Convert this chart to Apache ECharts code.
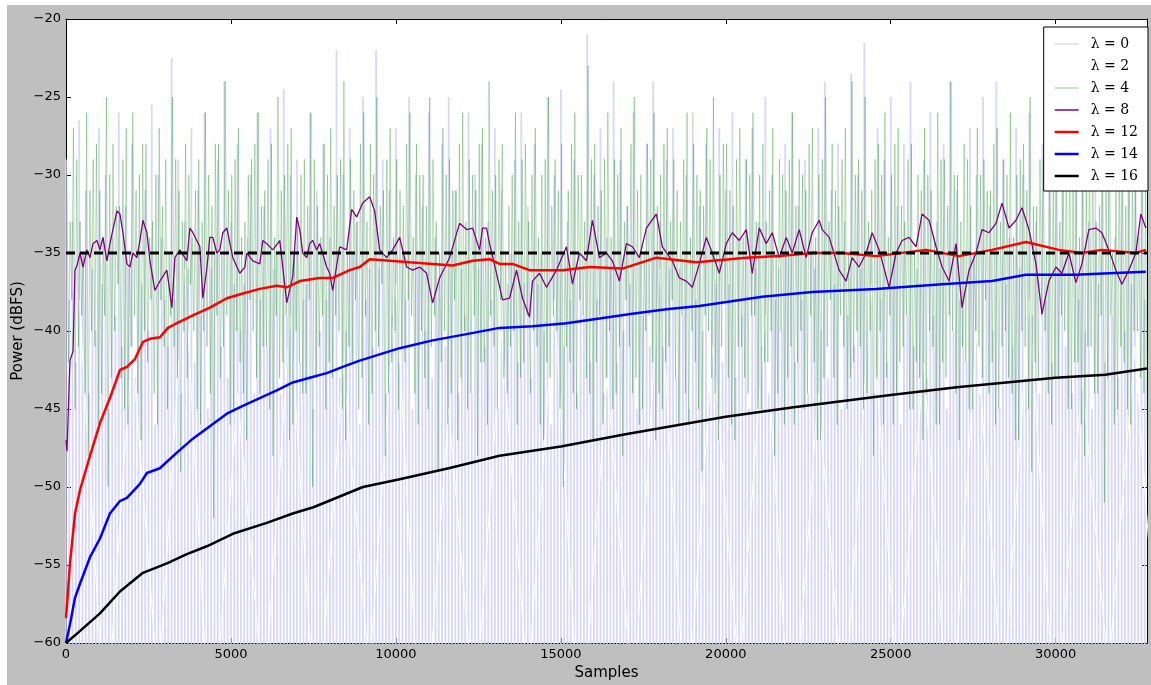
<!DOCTYPE html>
<html>
<head>
<meta charset="utf-8">
<script src="https://cdn.jsdelivr.net/npm/echarts@6/dist/echarts.min.js"></script>
<style>
html,body{margin:0;padding:0;background:#fff;}
#chart{position:absolute;left:7px;top:5px;width:1144px;height:680px;}
</style>
</head>
<body>
<div id="chart"></div>
<script>
// ---------- data ----------
const sampleMax = 32768;
const yTicks = [-60, -55, -50, -45, -40, -35, -30, -25, -20];
const targetLevel = -35;
const seriesNames = ['λ = 0', 'λ = 2', 'λ = 4', 'λ = 8', 'λ = 12', 'λ = 14', 'λ = 16'];

// λ=0 raw power: spike tops (at i*100) and troughs below the axis floor
const lam0Peaks = [
 -29,-38,-33,-42,-26.5,-35,-31,-44,-36,-40,-27,-37,-30,-45,-34,-39,-26,-41,-32,-36,
 -28,-43,-35,-37,-31,-40,-25.5,-46,-30,-34,-38,-41,-22.5,-38,-29,-44,-33,-36,-27,-42,
 -31,-39,-26,-45,-36,-35,-29,-41,-24,-43,-33,-37,-28,-40,-37,-34,-30,-44,-26,-38,
 -32,-41,-27,-36,-35,-44,-24.5,-39,-30,-35,-29,-42,-38,-37,-26,-45,-31,-40,-28,-38,
 -34,-37,-22,-43,-30,-40,-27,-35,-33,-46,-25,-38,-36,-41,-22,-36,-29,-44,-31,-39,
 -27,-42,-35,-38,-25,-45,-30,-36,-32,-40,-26,-43,-34,-37,-28,-41,-25,-35,-31,-44,
 -36,-39,-26,-44,-30,-36,-28,-41,-33,-38,-27,-45,-31,-40,-37,-35,-29,-42,-26,-37,
 -32,-43,-28,-37,-35,-40,-25,-46,-30,-35,-24.5,-41,-33,-38,-29,-44,-36,-39,-21,-42,
 -30,-38,-27,-44,-34,-36,-24,-42,-29,-40,-32,-37,-26,-45,-35,-39,-28,-41,-24,-35,
 -33,-41,-29,-36,-27,-43,-36,-39,-30,-45,-26,-38,-32,-40,-28,-44,-35,-37,-27,-42,
 -31,-37,-26,-43,-34,-39,-29,-45,-27,-36,-33,-41,-25,-44,-30,-38,-36,-40,-28,-35,
 -26,-42,-32,-38,-29,-44,-35,-36,-27,-40,-24,-43,-31,-37,-28,-45,-33,-39,-23.5,-41,
 -30,-36,-21.5,-40,-34,-44,-27,-38,-29,-42,-25,-35,-32,-46,-28,-39,-24,-41,-36,-37,
 -29,-43,-26,-39,-33,-36,-28,-45,-24,-40,-31,-38,-35,-42,-27,-35,-30,-44,-25,-37,
 -32,-40,-24,-45,-29,-37,-34,-41,-27,-36,-30,-43,-26,-39,-33,-44,-28,-38,-25,-42,
 -31,-36,-27,-41,-35,-44,-29,-38,-26,-40,-33,-45,-28,-37,-30,-42,-27,-39,-34,-43,
 -29,-40,-26,-37,-31,-44,-28,-38];
const lam0Troughs = [
 -68,-72,-64,-70,-66,-75,-62,-69,-71,-65,-73,-66,-70,-63,-68,-74,-65,-71,-67,-69,
 -64,-70,-66,-73,-62,-68,-72,-65,-69,-75,-67,-63,-71,-66,-74,-64,-70,-68,-62,-72,
 -69,-65,-73,-67,-71,-63,-68,-74,-66,-70,-62,-71,-67,-64,-72,-69,-65,-73,-68,-66,
 -70,-64,-74,-68,-63,-71,-66,-69,-72,-65,-67,-73,-62,-70,-66,-75,-64,-68,-71,-63,
 -72,-66,-69,-64,-73,-67,-70,-62,-68,-74,-65,-71,-67,-73,-63,-69,-66,-72,-64,-70,
 -68,-62,-74,-66,-70,-65,-72,-67,-63,-71,-73,-67,-64,-69,-71,-66,-62,-70,-68,-65,
 -66,-72,-68,-63,-74,-67,-70,-64,-71,-69,-64,-70,-66,-73,-68,-62,-71,-65,-69,-72,
 -71,-65,-69,-67,-63,-74,-68,-70,-66,-62,-69,-73,-65,-71,-67,-64,-72,-66,-70,-68,
 -63,-70,-67,-72,-68,-72,-64,-70,-66,-75,-62,-69,-71,-65,-73,-66,-70,-63,-68,-74,
 -65,-71,-67,-69,-64,-70,-66,-73,-62,-68,-72,-65,-69,-75,-67,-63,-71,-66,-74,-64,
 -70,-68,-62,-72,-69,-65,-73,-67,-71,-63,-68,-74,-66,-70,-62,-71,-67,-64,-72,-69,
 -65,-73,-68,-66,-70,-64,-74,-68,-63,-71,-66,-69,-72,-65,-67,-73,-62,-70,-66,-75,
 -64,-68,-71,-63,-72,-66,-69,-64,-73,-67,-70,-62,-68,-74,-65,-71,-67,-73,-63,-69,
 -66,-72,-64,-70,-68,-62,-74,-66,-70,-65,-72,-67,-63,-71,-73,-67,-64,-69,-71,-66,
 -62,-70,-68,-65,-66,-72,-68,-63,-74,-67,-70,-64,-71,-69,-64,-70,-66,-73,-68,-62,
 -71,-65,-69,-72,-71,-65,-69,-67,-63,-74,-68,-70,-66,-62,-69,-73,-65,-71,-67,-64,
 -72,-66,-70,-68,-63,-70,-67,-72];

// λ=2 (drawn in white)
const lam2Highs = [-38,-41,-36,-44,-39,-42,-37,-45,-40,-38,-43,-36,-41,-39,-44,-37,-42,-40,-38,-43,-41];
const lam2Lows  = [-66,-63,-68,-64,-67,-62,-69,-65,-63,-67,-64,-66,-62,-68,-65,-63,-67,-64,-66,-62,-65];

// λ=4: highs (at i*100+25) and lows (at i*100+75)
const lam4Highs = [
 -30,-33,-27,-29,-33,-35,-26,-31,-29,-28,-31,-34,-25,-30,-28,-32,-32,-29,-27,-35,
 -26,-31,-30,-28,-28,-34,-33,-30,-27,-32,-29,-35,-25,-29,-31,-33,-28,-30,-34,-31,
 -29,-33,-26,-30,-32,-28,-28,-35,-24,-31,-30,-29,-27,-34,-33,-30,-29,-28,-26,-32,
 -31,-29,-28,-34,-25,-31,-30,-28,-27,-35,-33,-30,-29,-32,-26,-29,-32,-34,-28,-30,
 -27,-32,-30,-29,-24,-35,-29,-31,-33,-28,-26,-33,-28,-30,-25,-32,-31,-29,-27,-34,
 -29,-31,-32,-28,-26,-34,-28,-30,-30,-32,-25,-29,-33,-35,-27,-30,-29,-31,-31,-28,
 -26,-33,-29,-30,-31,-28,-27,-34,-24,-31,-30,-29,-28,-35,-32,-30,-26,-33,-29,-28,
 -33,-30,-27,-34,-30,-29,-25,-32,-29,-31,-28,-35,-31,-28,-26,-30,-30,-33,-23,-29,
 -28,-32,-31,-29,-26,-34,-29,-30,-27,-33,-32,-28,-25,-31,-30,-35,-28,-29,-26,-32,
 -30,-28,-27,-33,-29,-31,-33,-29,-26,-34,-28,-30,-31,-32,-27,-29,-25,-35,-30,-28,
 -28,-31,-32,-29,-27,-34,-29,-30,-26,-33,-30,-28,-33,-31,-27,-35,-29,-30,-31,-29,
 -26,-32,-29,-30,-31,-28,-27,-34,-30,-29,-25,-33,-28,-31,-32,-29,-27,-35,-24,-30,
 -29,-31,-25,-33,-31,-29,-28,-30,-26,-34,-30,-28,-27,-32,-33,-29,-28,-35,-30,-31,
 -27,-30,-31,-34,-26,-29,-29,-32,-24,-30,-30,-33,-28,-29,-32,-35,-27,-30,-29,-31,
 -31,-28,-27,-33,-29,-30,-26,-34,-30,-29,-28,-31,-25,-32,-32,-29,-29,-35,-27,-30,
 -28,-33,-30,-29,-26,-31,-31,-34,-27,-30,-29,-28,-33,-32,-28,-30,-26,-35,-30,-29,
 -29,-32,-27,-30,-31,-34,-28,-30];
const lam4Lows = [
 -42,-38,-45,-41,-39,-44,-48,-40,-41,-46,-44,-39,-50,-43,-40,-37,-43,-45,-46,-41,
 -39,-44,-47,-40,-42,-38,-44,-46,-38,-41,-45,-39,-41,-43,-49,-40,-43,-37,-40,-45,
 -46,-40,-41,-44,-52,-39,-43,-41,-39,-46,-45,-40,-42,-44,-47,-38,-40,-43,-44,-41,
 -41,-45,-48,-39,-43,-42,-39,-47,-46,-40,-42,-44,-44,-38,-50,-43,-41,-39,-45,-42,
 -43,-39,-40,-45,-47,-41,-42,-38,-45,-43,-39,-46,-44,-40,-41,-37,-48,-44,-42,-40,
 -45,-41,-42,-38,-39,-44,-46,-40,-43,-45,-41,-39,-49,-42,-40,-46,-44,-38,-47,-43,
 -40,-45,-44,-39,-48,-42,-42,-46,-39,-41,-45,-38,-43,-44,-41,-40,-46,-43,-42,-39,
 -44,-40,-41,-46,-47,-42,-43,-39,-40,-45,-50,-41,-42,-44,-45,-38,-39,-43,-44,-47,
 -42,-39,-46,-43,-40,-45,-44,-41,-48,-38,-41,-44,-43,-46,-45,-40,-39,-42,-47,-44,
 -45,-42,-41,-38,-43,-46,-39,-44,-46,-40,-42,-45,-49,-39,-40,-43,-44,-47,-41,-38,
 -43,-46,-47,-41,-41,-43,-44,-39,-39,-45,-45,-42,-42,-40,-48,-44,-40,-46,-43,-41,
 -46,-42,-40,-45,-44,-39,-42,-47,-47,-43,-41,-38,-43,-46,-39,-41,-45,-43,-42,-40,
 -41,-45,-44,-40,-48,-43,-40,-46,-43,-39,-46,-44,-42,-41,-39,-45,-45,-42,-43,-47,
 -44,-40,-41,-46,-46,-42,-43,-39,-40,-44,-47,-41,-42,-45,-45,-40,-41,-43,-38,-44,
 -42,-46,-45,-41,-40,-43,-44,-47,-47,-40,-41,-45,-49,-42,-43,-39,-40,-44,-46,-43,
 -43,-39,-40,-45,-45,-42,-42,-46,-48,-41,-41,-44,-44,-39,-51,-43,-39,-46,-45,-41,
 -42,-45,-46,-40,-40,-43,-44,-47];

// λ=8 [sample, dBFS]
const lam8 = [[0,-47.0],[30,-47.7],[121,-41.9],[212,-41.3],[273,-36.1],[333,-35.8],[424,-35.0],[515,-35.9],[636,-34.8],[727,-35.3],[818,-34.4],[939,-34.2],[1030,-34.8],[1120,-34.0],[1241,-35.5],[1332,-34.4],[1423,-33.5],[1544,-32.3],[1635,-32.5],[1726,-33.7],[1847,-35.7],[1938,-35.9],[2029,-35.0],[2150,-35.3],[2241,-34.2],[2332,-32.9],[2453,-33.7],[2544,-35.5],[2695,-37.4],[2846,-36.8],[3058,-36.1],[3210,-38.5],[3301,-35.3],[3452,-34.8],[3664,-35.5],[3755,-33.4],[3846,-33.7],[4058,-34.6],[4148,-37.9],[4269,-36.0],[4360,-34.0],[4451,-34.0],[4572,-35.0],[4663,-34.8],[4754,-33.7],[4875,-33.4],[5057,-35.3],[5269,-36.3],[5420,-35.9],[5481,-35.0],[5662,-35.5],[5874,-35.7],[5965,-34.2],[6086,-34.4],[6268,-34.8],[6480,-34.2],[6692,-38.2],[6874,-36.5],[6995,-32.7],[7086,-33.5],[7176,-35.0],[7297,-35.3],[7388,-34.4],[7479,-34.2],[7600,-34.8],[7691,-34.4],[7903,-35.9],[7994,-36.3],[8085,-37.4],[8297,-34.6],[8509,-34.8],[8660,-32.2],[8812,-32.7],[8993,-31.8],[9205,-31.4],[9356,-32.3],[9508,-34.8],[9720,-35.3],[9902,-34.8],[10114,-34.0],[10326,-35.9],[10507,-36.1],[10719,-35.9],[10931,-36.3],[11113,-38.2],[11325,-36.6],[11628,-35.3],[11930,-33.1],[12143,-33.5],[12325,-33.4],[12536,-34.8],[12627,-33.4],[12748,-33.4],[12839,-34.4],[13051,-36.3],[13233,-38.0],[13445,-37.9],[13657,-36.1],[13838,-37.9],[14050,-39.1],[14141,-36.8],[14353,-36.3],[14565,-37.2],[14868,-36.1],[15170,-34.6],[15352,-37.0],[15564,-35.0],[15776,-35.5],[15957,-32.9],[16170,-35.3],[16382,-35.0],[16563,-35.5],[16775,-36.8],[16987,-34.4],[17169,-34.6],[17381,-35.3],[17593,-33.4],[17896,-32.5],[18077,-34.6],[18380,-35.5],[18592,-36.6],[18804,-36.8],[18986,-37.2],[19198,-35.7],[19410,-34.0],[19591,-35.0],[19803,-36.3],[20015,-34.4],[20197,-33.7],[20409,-34.2],[20621,-33.5],[20802,-36.3],[21014,-33.4],[21226,-34.4],[21408,-33.7],[21620,-35.3],[21832,-34.0],[22014,-35.0],[22225,-33.5],[22437,-35.3],[22619,-33.7],[22831,-32.9],[22922,-33.5],[23134,-34.0],[23436,-36.1],[23648,-36.8],[23830,-35.3],[24042,-35.9],[24254,-35.0],[24436,-33.7],[24648,-34.8],[24951,-37.2],[25163,-35.0],[25345,-34.2],[25556,-34.0],[25768,-34.6],[25950,-32.5],[26162,-32.9],[26374,-34.6],[26556,-35.9],[26768,-36.8],[26980,-34.4],[27161,-38.5],[27373,-36.1],[27585,-35.0],[27767,-33.5],[27979,-33.7],[28191,-33.1],[28373,-31.8],[28585,-33.4],[28797,-32.9],[28979,-32.1],[29190,-33.5],[29402,-35.7],[29584,-38.9],[29796,-36.8],[30008,-35.9],[30189,-36.3],[30401,-35.0],[30613,-36.9],[30795,-35.7],[31007,-33.5],[31219,-33.4],[31400,-33.7],[31612,-34.8],[31824,-36.1],[32006,-37.0],[32218,-36.1],[32430,-35.0],[32581,-32.5],[32733,-33.4]];

// λ=12
const lam12 = [[0,-58.4],[61,-56.7],[121,-54.9],[273,-51.7],[424,-50.2],[727,-48.0],[1030,-45.9],[1332,-44.3],[1635,-42.5],[1847,-42.3],[2089,-41.8],[2332,-40.7],[2544,-40.5],[2846,-40.4],[3089,-39.8],[3361,-39.5],[3846,-39.0],[4360,-38.5],[4875,-37.9],[5360,-37.6],[5874,-37.3],[6389,-37.1],[6692,-37.2],[7086,-36.8],[7691,-36.6],[8085,-36.6],[8600,-36.1],[8903,-35.9],[9205,-35.4],[9811,-35.5],[10417,-35.6],[11113,-35.7],[11719,-35.8],[12325,-35.5],[12839,-35.4],[13142,-35.7],[13535,-35.7],[14050,-36.1],[15050,-36.1],[15867,-35.9],[16866,-36.0],[17896,-35.3],[19107,-35.6],[20621,-35.3],[21620,-35.2],[22619,-35.0],[23528,-35.0],[24557,-35.2],[26071,-34.8],[27070,-35.2],[28070,-34.8],[29099,-34.3],[30098,-34.8],[30795,-35.0],[31400,-34.8],[32430,-35.0],[32733,-34.8]];

// λ=14
const lam14 = [[0,-60.0],[30,-59.9],[121,-58.8],[273,-57.1],[424,-56.2],[727,-54.5],[1030,-53.3],[1332,-51.7],[1635,-50.9],[1847,-50.7],[2241,-49.8],[2453,-49.1],[2846,-48.8],[3361,-47.8],[3846,-46.9],[4360,-46.1],[4875,-45.3],[5360,-44.8],[5874,-44.3],[6389,-43.8],[6874,-43.3],[7388,-43.0],[7903,-42.7],[8388,-42.3],[8903,-41.9],[10114,-41.1],[11113,-40.6],[12143,-40.2],[13142,-39.8],[14141,-39.7],[15170,-39.5],[16170,-39.2],[17169,-38.9],[18199,-38.6],[19198,-38.4],[21105,-37.8],[22619,-37.5],[24557,-37.3],[26556,-37.0],[28070,-36.8],[29099,-36.4],[30613,-36.4],[31612,-36.3],[32733,-36.2]];

// λ=16
const lam16 = [[0,-60.0],[60,-59.9],[333,-59.4],[1030,-58.1],[1635,-56.7],[2332,-55.5],[3059,-54.9],[3664,-54.3],[4269,-53.8],[5057,-53.0],[6086,-52.3],[6874,-51.7],[7500,-51.3],[9000,-50.0],[10114,-49.5],[11600,-48.8],[13142,-48.0],[15000,-47.4],[17000,-46.6],[20000,-45.5],[22000,-44.9],[25000,-44.1],[27000,-43.6],[30000,-43.0],[31500,-42.8],[32768,-42.4]];

// ---------- build noise traces ----------
function zig(highs, lows, step, offHigh, offLow) {
  const out = [];
  for (let i = 0; i < highs.length; i++) {
    out.push([i * step + offHigh, highs[i]]);
    out.push([i * step + offLow, lows[i]]);
  }
  return out;
}
// vertical spikes rising from below the axis floor
function spikes(peaks, floors, step, off) {
  const out = [];
  for (let i = 0; i < peaks.length; i++) {
    const x = i * step + off;
    out.push([x, floors[i]], [x, peaks[i]], [x, floors[i]]);
  }
  return out;
}
const lam0Data = spikes(lam0Peaks, lam0Troughs, 100, 0);
const lam2Data = zig(lam2Highs, lam2Lows, 1600, 400, 1200);
const lam4Data = zig(lam4Highs, lam4Lows, 100, 25, 75);

const minus = v => String(v).replace('-', '\u2212');
const FONT = 'DejaVu Sans';

const colors = ['rgba(208,208,250,0.85)', '#ffffff', 'rgba(0,128,0,0.28)', '#800080', '#ff0000', '#0000ff', '#000000'];
const widths = [1.8, 1, 1, 1.3, 2.5, 2.5, 2.5];
const iconWidths = [1.5, 1.5, 1.5, 1.5, 2.5, 2.5, 2.5];
function lineIcon(t) {
  const a = (7 - t / 2).toFixed(2), b = (7 + t / 2).toFixed(2);
  return 'path://M0,0L0,0M0,' + a + 'L24,' + a + 'L24,' + b + 'L0,' + b + 'ZM24,14L24,14';
}
const legendData = seriesNames.map((n, i) => ({name: n, icon: lineIcon(iconWidths[i])}));

const chart = echarts.init(document.getElementById('chart'), null, {renderer: 'canvas'});
const axisCommon = {
  type: 'value',
  splitLine: {show: false},
  axisLine: {show: true, onZero: false, lineStyle: {color: '#000', width: 1}},
  axisTick: {show: true, inside: true, length: 5, lineStyle: {color: '#000'}}
};
const seriesData = [lam0Data, lam2Data, lam4Data, lam8, lam12, lam14, lam16];
const series = seriesNames.map((n, i) => ({
  name: n, type: 'line', data: seriesData[i], symbol: 'none', showSymbol: false, clip: true,
  lineStyle: {color: colors[i], width: widths[i]}, itemStyle: {color: colors[i]},
  silent: i < 3, z: i + 1
}));
series.push({name: 'target', type: 'line', data: [[0, targetLevel], [sampleMax, targetLevel]], symbol: 'none',
  lineStyle: {color: '#000', width: 3, type: [9, 5]}, silent: true, z: 9});

const option = {
  backgroundColor: '#bfbfbf',
  animation: false,
  grid: {left: 59, right: 4, top: 14, bottom: 42, containLabel: false, outerBoundsMode: 'none',
         show: true, backgroundColor: '#fff', borderWidth: 0},
  legend: {
    data: legendData,
    orient: 'vertical',
    right: 3, top: 22,
    backgroundColor: '#fff',
    borderColor: '#000', borderWidth: 1, borderRadius: 0,
    padding: [10, 10, 8, 11],
    itemGap: 8, itemWidth: 24, itemHeight: 14,
    align: 'left',
    itemStyle: {borderWidth: 0},
    textStyle: {fontFamily: 'DejaVu Serif', fontSize: 14, color: '#000', padding: [0, 0, 0, 7]}
  },
  xAxis: [
    Object.assign({}, axisCommon, {
      min: 0, max: sampleMax, interval: 5000, position: 'bottom',
      axisLabel: {color: '#000', fontFamily: FONT, fontSize: 13, margin: 5, showMaxLabel: false, formatter: v => String(v)},
      name: 'Samples', nameLocation: 'middle', nameGap: 22,
      nameTextStyle: {fontFamily: FONT, fontSize: 15, color: '#000'}
    }),
    Object.assign({}, axisCommon, {
      min: 0, max: sampleMax, interval: 5000, position: 'top',
      axisLabel: {show: false}
    })
  ],
  yAxis: [
    Object.assign({}, axisCommon, {
      min: yTicks[0], max: yTicks[yTicks.length - 1], interval: 5, position: 'left',
      axisLabel: {color: '#000', fontFamily: FONT, fontSize: 13, margin: 5, formatter: minus},
      name: 'Power (dBFS)', nameLocation: 'middle', nameGap: 40, nameRotate: 90, nameMoveOverlap: false,
      nameTextStyle: {fontFamily: FONT, fontSize: 15, color: '#000'}
    }),
    Object.assign({}, axisCommon, {
      min: yTicks[0], max: yTicks[yTicks.length - 1], interval: 5, position: 'right',
      axisLabel: {show: false}
    })
  ],
  series: series
};
chart.setOption(option);
</script>
</body>
</html>
